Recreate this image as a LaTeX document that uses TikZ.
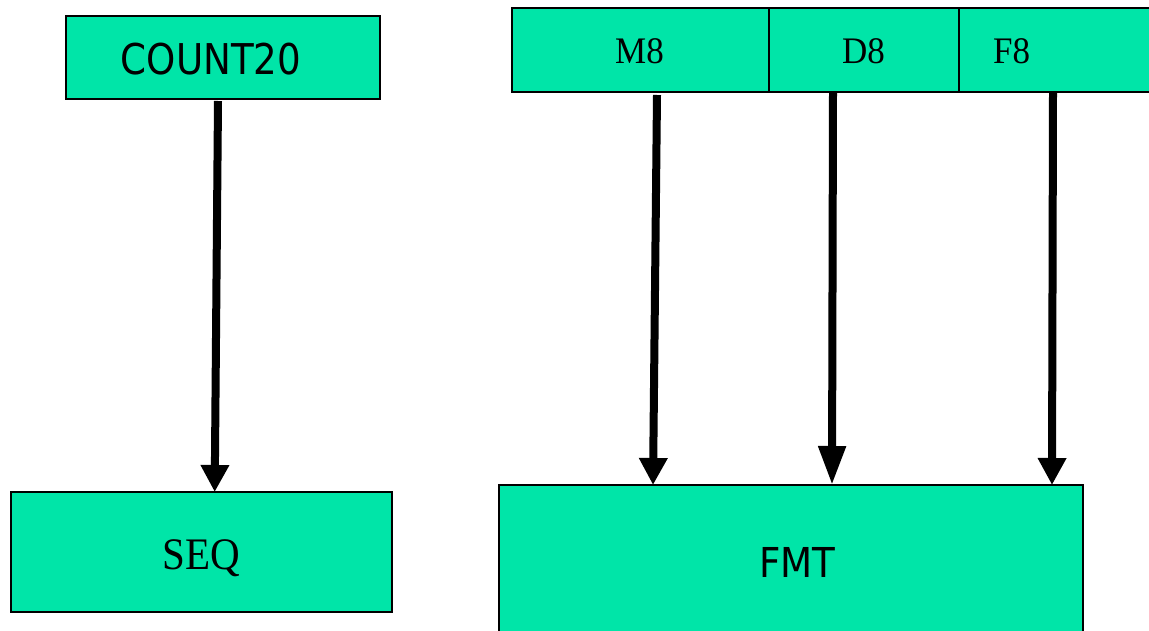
\documentclass[tikz,border=0pt]{standalone}
\usepackage{fontspec}
\usepackage{graphicx}
\setmainfont{Liberation Serif}
\newfontfamily\tah{DejaVu Sans}[FakeStretch=0.93]
\usetikzlibrary{arrows.meta}
\definecolor{boxfill}{RGB}{0,229,168}
\tikzset{
  blk/.style={draw=black, fill=boxfill, line width=1.5pt, inner sep=0pt, outer sep=0pt, rectangle},
  arr/.style={draw=black, line width=8pt, -{Triangle[width=27pt,length=27pt]}},
  arrlong/.style={draw=black, line width=8pt, -{Triangle[width=26pt,length=39pt]}},
  serif/.style={anchor=base, inner sep=0pt, font=\fontsize{35}{40}\selectfont},
  sans/.style={anchor=base, inner sep=0pt, font=\tah\fontsize{40}{46}\selectfont},
}
\begin{document}
\begin{tikzpicture}[x=1pt,y=-1pt]
\useasboundingbox (0,0) rectangle (1149,631);
% boxes
\node[blk, minimum width=314pt, minimum height=83pt] (count) at (223,57.5) {};
\node[blk, minimum width=381pt, minimum height=120pt] (seq) at (201.5,552) {};
\node[blk, minimum width=257pt, minimum height=84pt] (m8) at (640.5,50) {};
\node[blk, minimum width=190pt, minimum height=84pt] (d8) at (864,50) {};
\node[blk, minimum width=211pt, minimum height=84pt] (f8) at (1064.5,50) {};
\node[blk, minimum width=584pt, minimum height=170pt] (fmt) at (791,570) {};
% texts
\node[sans] (tcount) at (211,75) {\scalebox{1}[1.06]{COUNT20}};
\node[sans] (tfmt) at (797.5,577) {\scalebox{1}[1.03]{FMT}};
\node[serif, font=\fontsize{41}{46}\selectfont] (tseq) at (201,569) {\scalebox{1}[1.1]{SEQ}};
\node[serif] (tm8) at (639.5,64) {\scalebox{1}[1.07]{M8}};
\node[serif] (td8) at (863.5,64) {\scalebox{1}[1.07]{D8}};
\node[serif, anchor=base west] (tf8) at (993,64) {\scalebox{1}[1.07]{F8}};
% connectors
\draw[arr] ([xshift=-5pt,yshift=-2pt]count.south) -- ([xshift=13.2pt]seq.north);
\draw[arr] ([xshift=16.5pt,yshift=-3pt]m8.south) -- ([xshift=-138pt]fmt.north);
\draw[arrlong] ([xshift=-31pt,yshift=-1pt]d8.south) -- ([xshift=41pt]fmt.north);
\draw[arr] ([xshift=-11.5pt,yshift=-1pt]f8.south) -- ([xshift=261pt]fmt.north);
\end{tikzpicture}
\end{document}
